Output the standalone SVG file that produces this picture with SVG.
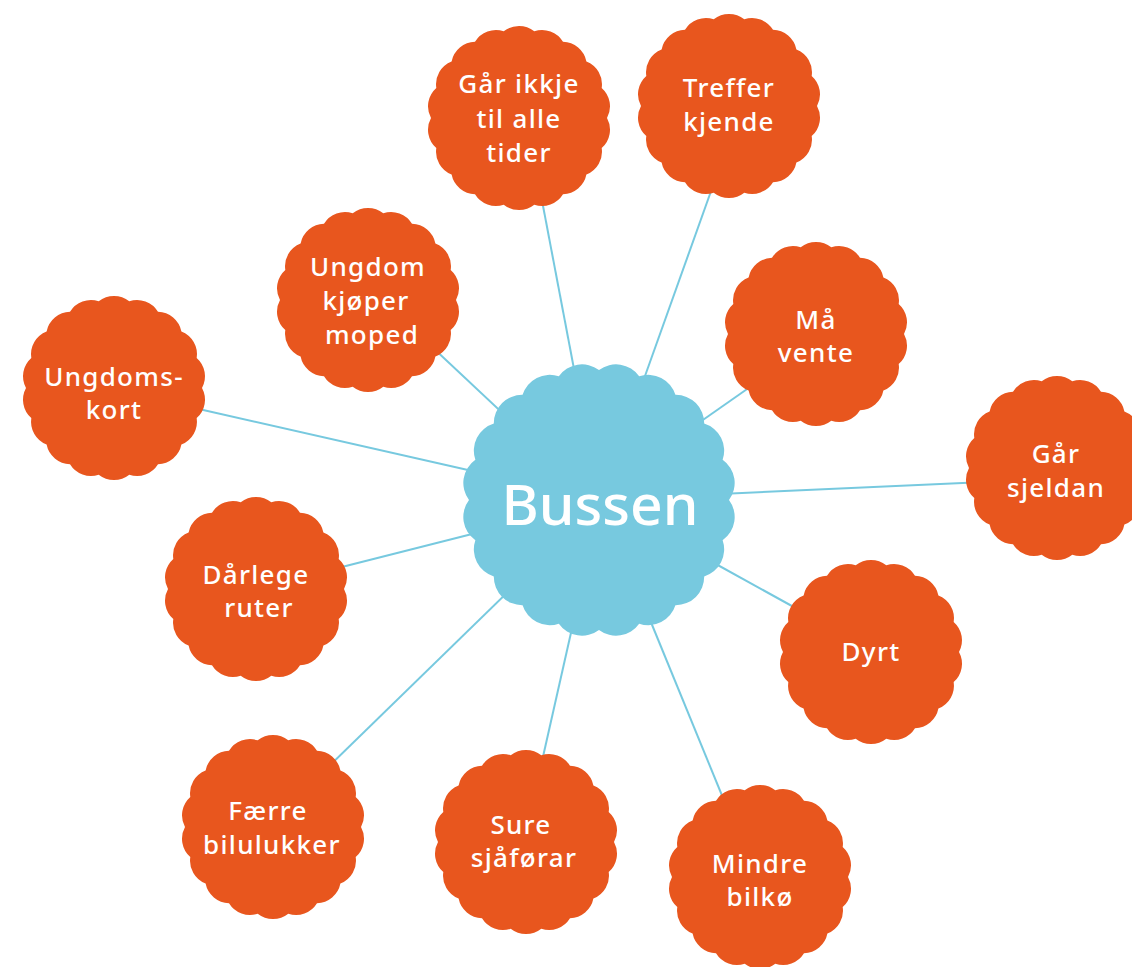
<svg xmlns="http://www.w3.org/2000/svg" xmlns:xlink="http://www.w3.org/1999/xlink" width="1132" height="967" viewBox="0 0 1132 967">
<style>
.node{fill:#E8561E}
.hub{fill:#77C9DF}
.lbl{font-family:"Noto Sans","Open Sans","DejaVu Sans",sans-serif;font-size:26px;font-weight:500;letter-spacing:1.3px;fill:#ffffff;text-anchor:middle}
.big{font-family:"Noto Sans","Open Sans","DejaVu Sans",sans-serif;font-size:57px;font-weight:500;fill:#ffffff;text-anchor:middle}
.conn line{stroke:#77C9DF;stroke-width:2;fill:none}
</style>
<defs>
<path id="sc" d="M88,0 A24.5,24.5 0 0 1 82.69,30.10 A24.5,24.5 0 0 1 67.41,56.57 A24.5,24.5 0 0 1 44,76.21 A24.5,24.5 0 0 1 15.28,86.66 A24.5,24.5 0 0 1 -15.28,86.66 A24.5,24.5 0 0 1 -44,76.21 A24.5,24.5 0 0 1 -67.41,56.57 A24.5,24.5 0 0 1 -82.69,30.10 A24.5,24.5 0 0 1 -88,0 A24.5,24.5 0 0 1 -82.69,-30.10 A24.5,24.5 0 0 1 -67.41,-56.57 A24.5,24.5 0 0 1 -44,-76.21 A24.5,24.5 0 0 1 -15.28,-86.66 A24.5,24.5 0 0 1 15.28,-86.66 A24.5,24.5 0 0 1 44,-76.21 A24.5,24.5 0 0 1 67.41,-56.57 A24.5,24.5 0 0 1 82.69,-30.10 A24.5,24.5 0 0 1 88,0 Z"/>
<path id="hubshape" d="M130,0 A28.3,28.3 0 0 1 123.64,40.17 A28.3,28.3 0 0 1 105.17,76.41 A28.3,28.3 0 0 1 76.41,105.17 A28.3,28.3 0 0 1 40.17,123.64 A28.3,28.3 0 0 1 0,130 A28.3,28.3 0 0 1 -40.17,123.64 A28.3,28.3 0 0 1 -76.41,105.17 A28.3,28.3 0 0 1 -105.17,76.41 A28.3,28.3 0 0 1 -123.64,40.17 A28.3,28.3 0 0 1 -130,0 A28.3,28.3 0 0 1 -123.64,-40.17 A28.3,28.3 0 0 1 -105.17,-76.41 A28.3,28.3 0 0 1 -76.41,-105.17 A28.3,28.3 0 0 1 -40.17,-123.64 A28.3,28.3 0 0 1 0,-130 A28.3,28.3 0 0 1 40.17,-123.64 A28.3,28.3 0 0 1 76.41,-105.17 A28.3,28.3 0 0 1 105.17,-76.41 A28.3,28.3 0 0 1 123.64,-40.17 A28.3,28.3 0 0 1 130,0 Z"/>
</defs>
<rect width="1132" height="967" fill="#ffffff"/>
<g class="conn">
<line x1="578" y1="390" x2="540" y2="190"/>
<line x1="640" y1="390" x2="715" y2="180"/>
<line x1="700" y1="422" x2="760" y2="380"/>
<line x1="720" y1="494" x2="985" y2="482"/>
<line x1="705" y1="558" x2="810" y2="616"/>
<line x1="648" y1="615" x2="730" y2="815"/>
<line x1="575" y1="615" x2="540" y2="770"/>
<line x1="515" y1="585" x2="320" y2="775"/>
<line x1="480" y1="532" x2="330" y2="570"/>
<line x1="490" y1="475" x2="190" y2="407"/>
<line x1="510" y1="420" x2="430" y2="345"/>
</g>
<g id="hub"><use xlink:href="#hubshape" class="hub" transform="translate(599,500)"/><text class="big" x="600" y="525">Bussen</text></g>
<g id="n1"><use xlink:href="#sc" class="node" transform="translate(519,118)"/><text class="lbl" x="519" y="93">Går ikkje</text><text class="lbl" x="519" y="128">til alle</text><text class="lbl" x="519" y="162">tider</text></g>
<g id="n2"><use xlink:href="#sc" class="node" transform="translate(729,106)"/><text class="lbl" x="729" y="97">Treffer</text><text class="lbl" x="729" y="131">kjende</text></g>
<g id="n3"><use xlink:href="#sc" class="node" transform="translate(816,334)"/><text class="lbl" x="816" y="329">Må</text><text class="lbl" x="816" y="362">vente</text></g>
<g id="n4"><use xlink:href="#sc" class="node" transform="translate(1057,468)"/><text class="lbl" x="1056" y="463">Går</text><text class="lbl" x="1056" y="497">sjeldan</text></g>
<g id="n5"><use xlink:href="#sc" class="node" transform="translate(871,652)"/><text class="lbl" x="871" y="661">Dyrt</text></g>
<g id="n6"><use xlink:href="#sc" class="node" transform="translate(760,877)"/><text class="lbl" x="760" y="873">Mindre</text><text class="lbl" x="760" y="906">bilkø</text></g>
<g id="n7"><use xlink:href="#sc" class="node" transform="translate(526,842)"/><text class="lbl" x="521" y="834">Sure</text><text class="lbl" x="524" y="867">sjåførar</text></g>
<g id="n8"><use xlink:href="#sc" class="node" transform="translate(273,827)"/><text class="lbl" x="268" y="820">Færre</text><text class="lbl" x="272" y="854">bilulukker</text></g>
<g id="n9"><use xlink:href="#sc" class="node" transform="translate(256,589)"/><text class="lbl" x="256" y="584">Dårlege</text><text class="lbl" x="259" y="617">ruter</text></g>
<g id="n10"><use xlink:href="#sc" class="node" transform="translate(114,388)"/><text class="lbl" x="114" y="386">Ungdoms-</text><text class="lbl" x="114" y="419">kort</text></g>
<g id="n11"><use xlink:href="#sc" class="node" transform="translate(368,300)"/><text class="lbl" x="368" y="276">Ungdom</text><text class="lbl" x="366" y="310">kjøper</text><text class="lbl" x="372" y="344">moped</text></g>
</svg>
